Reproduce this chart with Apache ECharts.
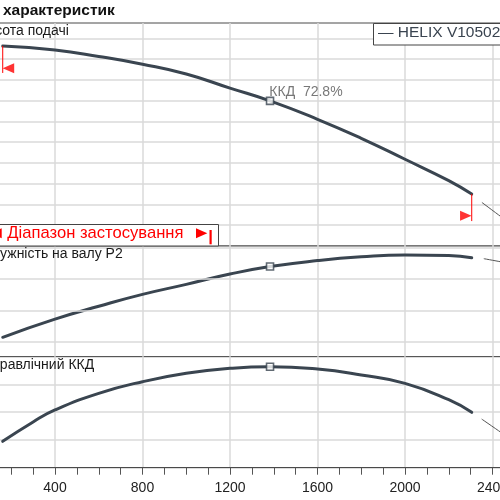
<!DOCTYPE html>
<html><head><meta charset="utf-8">
<script src="https://cdn.jsdelivr.net/npm/echarts@6/dist/echarts.min.js"></script>
<style>html,body{margin:0;padding:0;background:#fff}#c{width:500px;height:500px}</style>
</head><body><div id="c"></div>
<script>
// ---- data ----
const headQ = [161, 400, 600, 800, 1000, 1200, 1383, 1600, 1800, 2000, 2200, 2305];
const headH = [19.26, 18.87, 18.25, 17.5, 16.56, 15.2, 13.97, 12.2, 10.37, 8.35, 6.29, 5.0];
const headExtQ = [2353, 2440];
const headExtH = [4.17, 2.8];

const powerQ = [161, 400, 600, 800, 1000, 1200, 1383, 1600, 1800, 2000, 2200, 2305];
const powerP = [1.14, 1.72, 2.13, 2.51, 2.83, 3.16, 3.40, 3.59, 3.71, 3.77, 3.75, 3.68];
const powerExtQ = [2362, 2440];
const powerExtP = [3.65, 3.55];
const powerGridValues = [1, 2, 3, 4];

const effQ = [161, 300, 400, 600, 800, 1000, 1200, 1383, 1600, 1800, 2000, 2200, 2305];
const effE = [19, 33, 41.6, 53.6, 62, 68, 71.6, 72.8, 71.1, 66.8, 60.8, 49, 39.9];
const effExtQ = [2352, 2440];
const effExtE = [34.9, 25.3];

const dutyQ = [1383];
const dutyH = [13.97];
const dutyP = [3.40];
const dutyE = [72.8];

const rangeQ = [161, 2305];

const panelTitles = ['Висота подачі', 'Потужність на валу P2', 'Гідравлічний ККД'];
const chartTitle = 'характеристик';
const legendName = 'HELIX V10502';
const rangeLabel = 'Діапазон застосування';
const dutyLabel = 'ККД';

// ---- styles ----
const CURVE = '#3a4550';
const GRIDC = '#dadada';
const FRAME = '#4a4a4a';
const FONT = '"Liberation Sans", Arial, sans-serif';
const markerDrop = 2.6;

const pairs = (xs, ys) => xs.map((x, i) => [x, ys[i]]);

const chart = echarts.init(document.getElementById('c'), null, {renderer: 'canvas'});

const gridBase = {left: -32.5, width: 612.5, show: true, backgroundColor: '#fff', borderColor: FRAME, borderWidth: 1,
  containLabel: false, outerBoundsMode: 'none'};

function xAx(i) {
  const bottom = i === 2;
  return {
    gridIndex: i, type: 'value', min: 0, max: 2800, interval: 400,
    axisLine: {show: bottom, lineStyle: {color: FRAME, width: 1}},
    axisTick: {show: bottom, length: 7, inside: false, lineStyle: {color: '#555'}},
    minorTick: {show: bottom, splitNumber: 4, length: 7, lineStyle: {color: '#555'}},
    axisLabel: {show: bottom, margin: 13, fontSize: 14, color: '#222', fontFamily: FONT, formatter: v => String(v),
      hideOverlap: false},
    splitLine: {show: true, showMinLine: false, showMaxLine: false, lineStyle: {color: GRIDC, width: 1.5}}
  };
}

const noAxis = {axisLine: {show: false}, axisTick: {show: false}, axisLabel: {show: false}};

const lineS = (xi, data, w, color, z) => ({
  type: 'line', xAxisIndex: xi, yAxisIndex: xi, data, smooth: 0.5, symbol: 'none',
  lineStyle: {color, width: w, cap: 'round'}, z, silent: true
});

const dutySym = (xi, ys, withLabel) => ({
  type: 'scatter', xAxisIndex: xi, yAxisIndex: xi, data: pairs(dutyQ, ys),
  symbol: 'rect', symbolSize: 7, z: 6, silent: true,
  itemStyle: {color: '#fff', borderColor: CURVE, borderWidth: 1.6},
  label: withLabel ? {show: true, position: 'right', distance: 5, offset: [-10, -9],
    formatter: () => dutyLabel + '  ' + dutyE[0].toFixed(1) + '%', fontSize: 14, color: '#555', fontFamily: FONT} : {show: false}
});

const option = {
  animation: false,
  backgroundColor: '#fff',
  grid: [
    Object.assign({top: 23, height: 223}, gridBase),
    Object.assign({top: 246, height: 110.7}, gridBase),
    Object.assign({top: 356.7, height: 111}, gridBase)
  ],
  xAxis: [xAx(0), xAx(1), xAx(2)],
  yAxis: [
    Object.assign({gridIndex: 0, type: 'value', min: 0, max: 21.47, interval: 2,
      splitLine: {show: true, showMinLine: false, showMaxLine: false, lineStyle: {color: GRIDC, width: 1.5}}}, noAxis),
    Object.assign({gridIndex: 1, type: 'value', min: 0.52, max: 4.057, splitLine: {show: false}}, noAxis),
    Object.assign({gridIndex: 2, type: 'value', min: 0, max: 80, interval: 20,
      splitLine: {show: true, showMinLine: false, showMaxLine: false, lineStyle: {color: GRIDC, width: 1.5}}}, noAxis)
  ],
  series: [
    lineS(0, pairs(headQ, headH), 3, CURVE, 3),
    lineS(0, pairs(headExtQ, headExtH), 1, '#555', 3),
    {type: 'line', xAxisIndex: 1, yAxisIndex: 1, data: [], z: 1, silent: true,
      markLine: {silent: true, symbol: 'none', label: {show: false}, animation: false,
        lineStyle: {color: GRIDC, width: 1.5, type: 'solid'},
        data: powerGridValues.map(v => ({yAxis: v}))}},
    lineS(1, pairs(powerQ, powerP), 3, CURVE, 3),
    lineS(1, pairs(powerExtQ, powerExtP), 1, '#555', 3),
    lineS(2, pairs(effQ, effE), 3, CURVE, 3),
    lineS(2, pairs(effExtQ, effExtE), 1, '#555', 3),
    dutySym(0, dutyH, true),
    dutySym(1, dutyP, false),
    dutySym(2, dutyE, false),
    // application range markers
    {type: 'line', xAxisIndex: 0, yAxisIndex: 0, symbol: 'none', z: 5, silent: true,
      data: [[rangeQ[0], headH[0]], [rangeQ[0], headH[0] - markerDrop]], lineStyle: {color: '#ff0000', width: 1}},
    {type: 'line', xAxisIndex: 0, yAxisIndex: 0, symbol: 'none', z: 5, silent: true,
      data: [[rangeQ[1], headH[headH.length - 1]], [rangeQ[1], headH[headH.length - 1] - markerDrop]], lineStyle: {color: '#ff0000', width: 1}},
    {type: 'scatter', xAxisIndex: 0, yAxisIndex: 0, z: 5, silent: true,
      symbol: 'path://M10,0 L10,10 L0,5 Z', symbolSize: [11.5, 10], symbolOffset: [5.7, -4.8],
      itemStyle: {color: '#ff0000'}, data: [[rangeQ[0], headH[0] - markerDrop]]},
    {type: 'scatter', xAxisIndex: 0, yAxisIndex: 0, z: 5, silent: true,
      symbol: 'path://M0,0 L0,10 L10,5 Z', symbolSize: [11.5, 10], symbolOffset: [-5.9, -5.2],
      itemStyle: {color: '#ff0000'}, data: [[rangeQ[1], headH[headH.length - 1] - markerDrop]]}
  ],
  graphic: [
    {type: 'text', x: 3, y: 11, z: 10, style: {text: chartTitle, font: 'bold 15.5px ' + FONT, fill: '#111', verticalAlign: 'middle'}},
    {type: 'text', x: -22, y: 30.7, z: 10, style: {text: panelTitles[0], font: '14px ' + FONT, fill: '#1a1a1a', verticalAlign: 'middle'}},
    {type: 'text', x: -24, y: 254.5, z: 10, style: {text: panelTitles[1], font: '14px ' + FONT, fill: '#1a1a1a', verticalAlign: 'middle'}},
    {type: 'text', x: -19, y: 365.2, z: 10, style: {text: panelTitles[2], font: '14px ' + FONT, fill: '#1a1a1a', verticalAlign: 'middle'}},
    // legend box
    {type: 'rect', z: 10, shape: {x: 373.5, y: 23.5, width: 150, height: 21.5}, style: {fill: '#fff', stroke: '#444', lineWidth: 1}},
    {type: 'text', x: 378, y: 33.2, z: 11, style: {text: '— ' + legendName, font: '15.5px ' + FONT, fill: '#3a4450', verticalAlign: 'middle'}},
    // application range label box
    {type: 'rect', z: 10, shape: {x: -30, y: 224.5, width: 248.5, height: 21.5}, style: {fill: '#fff', stroke: '#444', lineWidth: 1}},
    {type: 'text', x: 7.3, y: 233.4, z: 11, style: {text: rangeLabel, font: '16.6px ' + FONT, fill: '#ff0000', verticalAlign: 'middle'}},
    {type: 'polygon', z: 11, shape: {points: [[1.7, 228.3], [1.7, 238.3], [-9.6, 233.3]]}, style: {fill: '#ff0000'}},
    {type: 'rect', z: 11, shape: {x: -14, y: 230, width: 2.2, height: 14.3}, style: {fill: '#ff0000'}},
    {type: 'polygon', z: 11, shape: {points: [[196, 228.3], [196, 238.3], [207.3, 233.3]]}, style: {fill: '#ff0000'}},
    {type: 'rect', z: 11, shape: {x: 209.5, y: 230, width: 2.2, height: 14.3}, style: {fill: '#ff0000'}}
  ]
};
chart.setOption(option);
</script>
</body></html>
